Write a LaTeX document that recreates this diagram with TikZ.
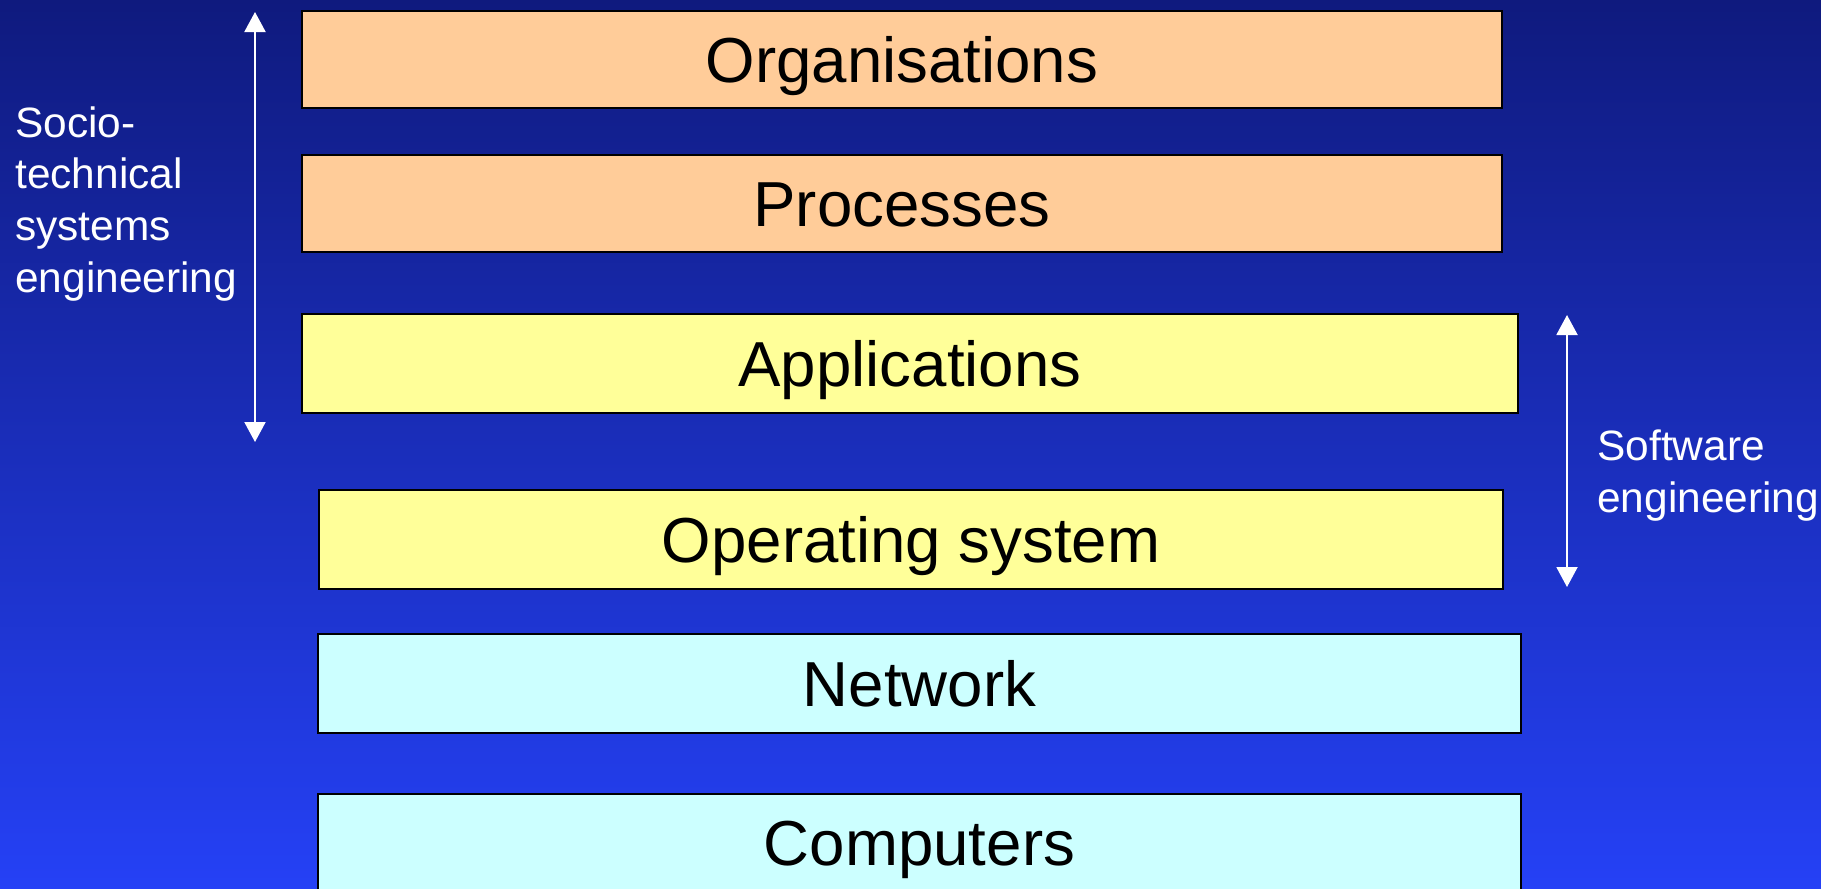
\documentclass[tikz,border=0pt]{standalone}
\usepackage{fontspec}
\setmainfont{Liberation Sans}
\usetikzlibrary{arrows.meta}

\definecolor{bgtop}{HTML}{0F1A7E}
\definecolor{bgbot}{HTML}{2541F6}
\definecolor{orgfill}{HTML}{FFCC99}
\definecolor{appfill}{HTML}{FFFF99}
\definecolor{hwfill}{HTML}{CCFFFF}

\tikzset{
  layer/.style={draw=black, line width=1pt, inner sep=0pt,
    font=\fontsize{31.8}{36}\selectfont, text=black,
    text height=22.5pt, text depth=0pt},
  sidelabel/.style={text=white, inner sep=0pt, align=left,
    font=\fontsize{21.2}{25.8}\selectfont},
  span/.style={draw=white, line width=1pt,
    {Triangle[width=10.5pt,length=10pt]}-{Triangle[width=10.5pt,length=10pt]}}
}

\begin{document}
\begin{tikzpicture}[x=0.5pt, y=-0.5pt]
  % background
  \useasboundingbox (0,0) rectangle (1821,889);
  \shade[top color=bgtop, bottom color=bgbot] (0,0) rectangle (1821,889);

  % layers of the stack
  \node[layer, fill=orgfill, minimum width=600pt, minimum height=48.5pt]
    (org) at (902,59.5) {Organisations};
  \node[layer, fill=orgfill, minimum width=600pt, minimum height=48.5pt]
    (proc) at (902,203.5) {Processes};
  \node[layer, fill=appfill, minimum width=608pt, minimum height=49.5pt]
    (app) at (910,363.5) {Applications};
  \node[layer, fill=appfill, minimum width=592pt, minimum height=49.5pt]
    (os) at (911,539.5) {Operating system};
  \node[layer, fill=hwfill, minimum width=601.5pt, minimum height=49.5pt]
    (net) at (919.5,683.5) {Network};
  \node[layer, fill=hwfill, minimum width=601.5pt, minimum height=48.5pt]
    (comp) at (919.5,842.5) {Computers};

  % extent of socio-technical systems engineering
  \coordinate (stTop) at (255,12);
  \coordinate (stBot) at (255,442);
  \draw[span] (stTop) -- (stBot);
  \node[sidelabel, anchor=base west] (stLabel) at (15,292)
    {Socio-\\technical\\systems\\engineering};

  % extent of software engineering
  \coordinate (seTop) at (1567,315);
  \coordinate (seBot) at (1567,587);
  \draw[span] (seTop) -- (seBot);
  \node[sidelabel, anchor=base west] (seLabel) at (1597,512)
    {Software\\engineering};
\end{tikzpicture}
\end{document}
